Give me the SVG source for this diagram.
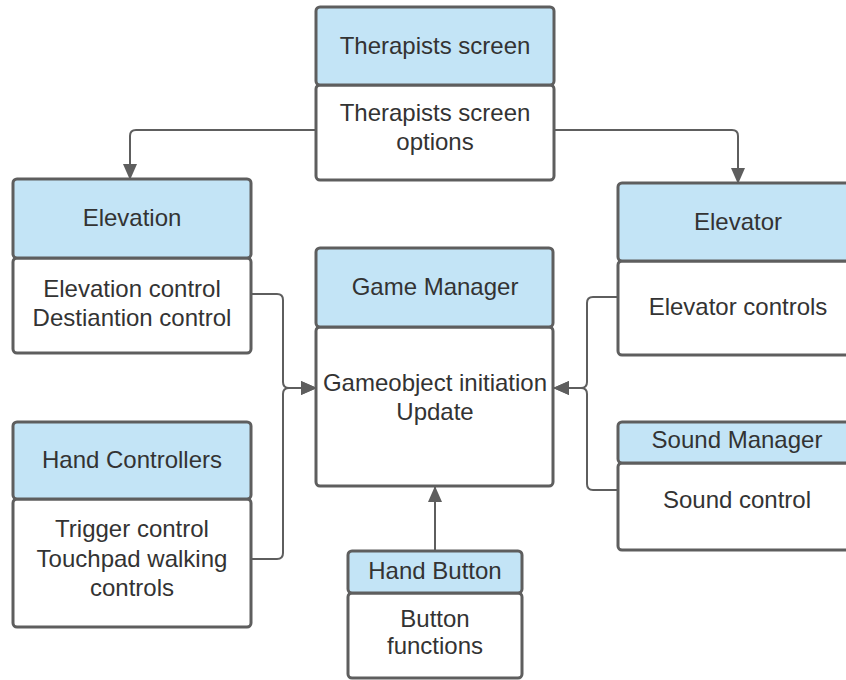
<svg xmlns="http://www.w3.org/2000/svg" width="846" height="680" viewBox="0 0 846 680">
<style>
.hd{fill:#c3e4f6;stroke:#5e5e5e;stroke-width:3}
.bd{fill:#ffffff;stroke:#5e5e5e;stroke-width:3}
.t{font-family:"Liberation Sans",Arial,sans-serif;font-size:24px;fill:#333333;text-anchor:middle}
.c{fill:none;stroke:#5e5e5e;stroke-width:2}
</style>
<defs>
<marker id="ah" markerUnits="userSpaceOnUse" markerWidth="16" markerHeight="14" viewBox="0 0 16 14" refX="15" refY="7" orient="auto">
<path d="M0,0 L16,7 L0,14 z" fill="#5e5e5e"/>
</marker>
</defs>
<rect width="846" height="680" fill="#ffffff"/>
<g id="connectors">
<path class="c" d="M316,130 H136 Q130,130 130,136 V179" marker-end="url(#ah)"/>
<path class="c" d="M554,130 H732 Q738,130 738,136 V183" marker-end="url(#ah)"/>
<path class="c" d="M251,294 H277 Q283,294 283,300 V382 Q283,388 289,388 H316" marker-end="url(#ah)"/>
<path class="c" d="M251,559 H277 Q283,559 283,553 V394 Q283,388 289,388 H316" marker-end="url(#ah)"/>
<path class="c" d="M618,297 H593 Q587,297 587,303 V382 Q587,388 581,388 H554" marker-end="url(#ah)"/>
<path class="c" d="M618,490 H593 Q587,490 587,484 V394 Q587,388 581,388 H554" marker-end="url(#ah)"/>
<path class="c" d="M435,551 V487" marker-end="url(#ah)"/>
</g>
<g id="therapists">
<rect class="bd" x="316" y="85" width="238" height="95" rx="4"/>
<rect class="hd" x="316" y="7" width="238" height="78" rx="4"/>
<text class="t" x="435" y="54">Therapists screen</text>
<text class="t" x="435" y="121">Therapists screen</text>
<text class="t" x="435" y="150">options</text>
</g>
<g id="elevation">
<rect class="bd" x="13" y="258" width="238" height="95" rx="4"/>
<rect class="hd" x="13" y="179" width="238" height="79" rx="4"/>
<text class="t" x="132" y="226">Elevation</text>
<text class="t" x="132" y="297">Elevation control</text>
<text class="t" x="132" y="326">Destiantion control</text>
</g>
<g id="elevator">
<rect class="bd" x="618" y="261" width="240" height="94" rx="4"/>
<rect class="hd" x="618" y="183" width="240" height="78" rx="4"/>
<text class="t" x="738" y="230">Elevator</text>
<text class="t" x="738" y="315">Elevator controls</text>
</g>
<g id="gamemanager">
<rect class="bd" x="316" y="327" width="237" height="159" rx="4"/>
<rect class="hd" x="316" y="248" width="237" height="79" rx="4"/>
<text class="t" x="435" y="295">Game Manager</text>
<text class="t" x="435" y="391">Gameobject initiation</text>
<text class="t" x="435" y="420">Update</text>
</g>
<g id="soundmanager">
<rect class="bd" x="618" y="463" width="240" height="87" rx="4"/>
<rect class="hd" x="618" y="422" width="240" height="41" rx="4"/>
<text class="t" x="737" y="448">Sound Manager</text>
<text class="t" x="737" y="508">Sound control</text>
</g>
<g id="handcontrollers">
<rect class="bd" x="13" y="499" width="238" height="128" rx="4"/>
<rect class="hd" x="13" y="422" width="238" height="77" rx="4"/>
<text class="t" x="132" y="468">Hand Controllers</text>
<text class="t" x="132" y="537">Trigger control</text>
<text class="t" x="132" y="567">Touchpad walking</text>
<text class="t" x="132" y="596">controls</text>
</g>
<g id="handbutton">
<rect class="bd" x="348" y="593" width="174" height="85" rx="4"/>
<rect class="hd" x="348" y="551" width="174" height="42" rx="4"/>
<text class="t" x="435" y="579">Hand Button</text>
<text class="t" x="435" y="627">Button</text>
<text class="t" x="435" y="654">functions</text>
</g>
</svg>
